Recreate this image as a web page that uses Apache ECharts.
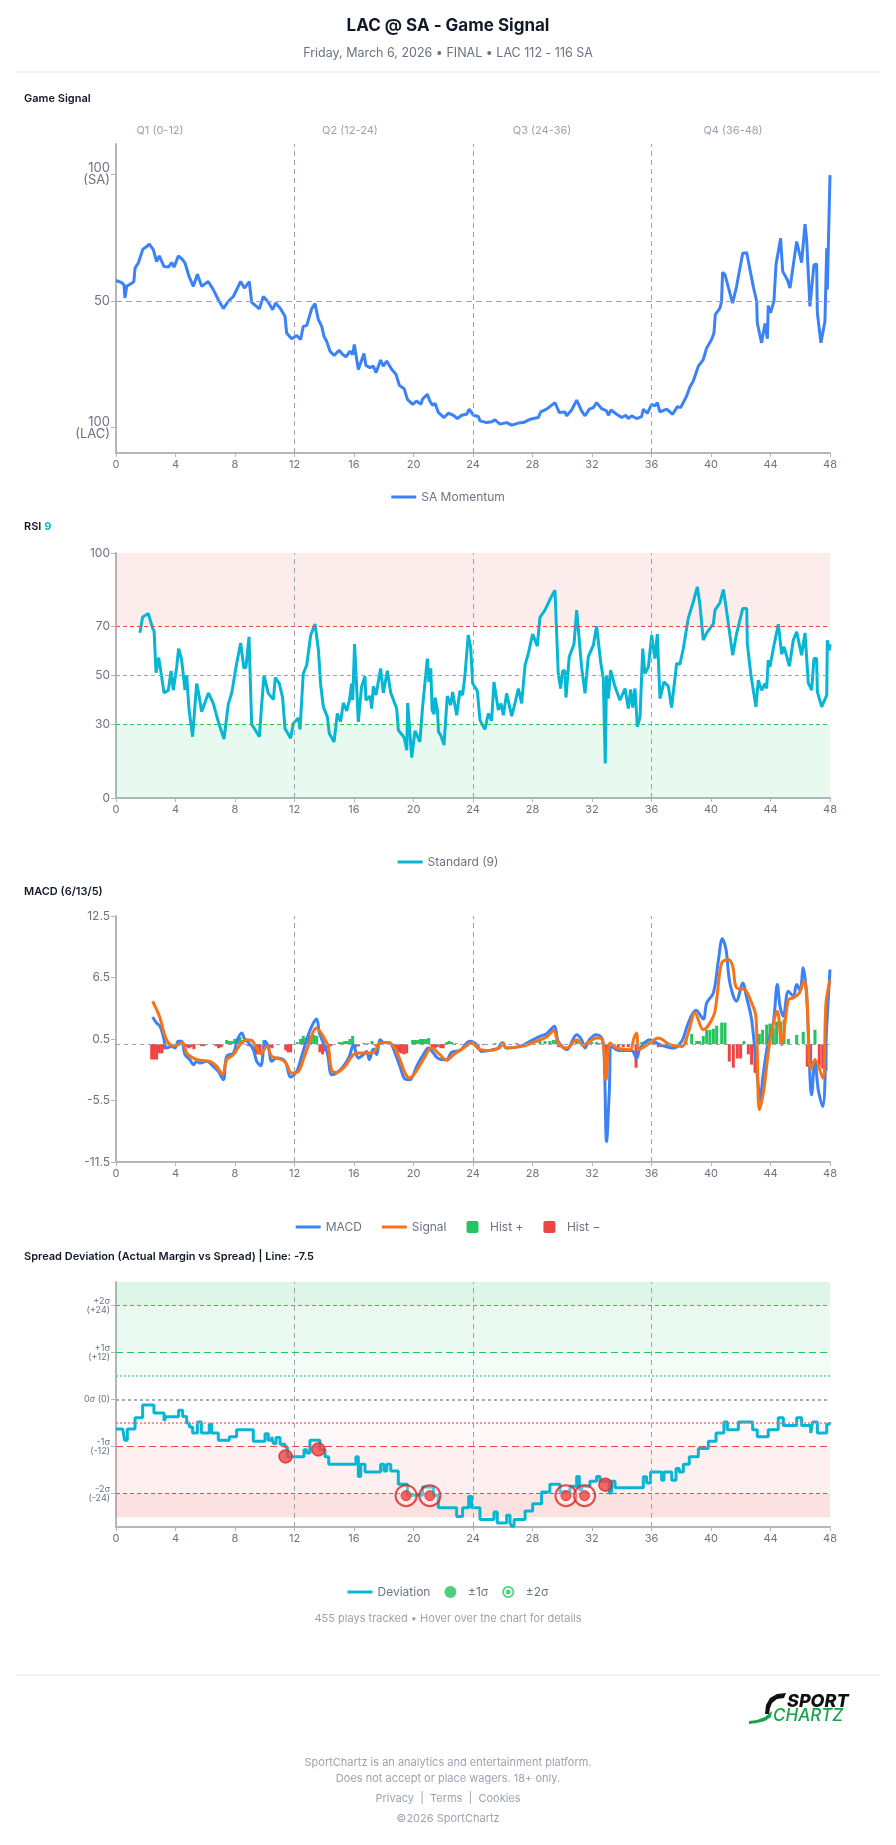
<!DOCTYPE html>
<html>
<head>
<meta charset="utf-8">
<title>LAC @ SA - Game Signal</title>
<script src="https://cdn.jsdelivr.net/npm/echarts@6/dist/echarts.min.js"></script>
<style>
  html, body { margin: 0; padding: 0; background: #fff; }
  #main { width: 896px; height: 1845px; }
</style>
</head>
<body>
<div id="main"></div>
<script>
// game minute -> value pairs
var quarterLabels = ['Q1 (0-12)', 'Q2 (12-24)', 'Q3 (24-36)', 'Q4 (36-48)'];
var quarterLines = [12, 24, 36];

var momentumData = [
  [0,58.1],[0.38,57.3],[0.54,56.3],[0.6,51.2],[0.72,55.8],[1.05,57],[1.2,57.7],[1.28,63],[1.5,65],[1.6,65.6],
  [1.8,70.4],[2.06,71.5],[2.24,72.5],[2.5,70.4],[2.73,65.6],[2.91,67.8],[3.23,63.6],[3.52,63.4],[3.74,65.2],[3.9,63.4],
  [4.19,67.8],[4.48,66.3],[4.64,65],[4.75,65.2],[4.91,59.7],[5.2,55.8],[5.47,60.6],[5.76,55.8],[6.2,57.7],[6.54,54.5],
  [6.88,50.5],[7.22,47],[7.55,49.9],[7.89,51.8],[8.38,57.7],[8.63,55.1],[8.96,57.7],[9.12,49.5],[9.64,46.9],[9.9,51.8],
  [10.24,49.5],[10.53,46.6],[10.73,49.2],[11.03,47.2],[11.36,44],[11.47,37.4],[11.81,35.1],[12.15,36.4],[12.41,34.8],[12.59,40],
  [12.82,40.3],[13.15,46.9],[13.38,49],[13.6,42.7],[13.83,40],[13.98,36.1],[14.16,34.1],[14.39,30.2],[14.66,28.5],[15.0,30.6],
  [15.24,28.9],[15.46,28],[15.73,30.2],[15.91,28.9],[16.02,32.8],[16.29,23],[16.67,29.3],[16.8,24.6],[17.08,23.7],[17.3,24.3],
  [17.48,21.7],[17.79,26.7],[17.97,24.3],[18.2,26.3],[18.54,23],[18.83,21],[19.05,16.7],[19.37,15.4],[19.59,11.2],[19.95,9.2],
  [20.2,10.5],[20.5,9.2],[20.6,11.2],[20.93,13.2],[21.1,10.5],[21.29,8.8],[21.45,9.6],[21.67,6],[21.78,6],[22.05,4],
  [22.34,5.7],[22.68,4.9],[22.95,3.6],[23.24,4.9],[23.57,5.3],[23.75,7.3],[24.02,4.9],[24.36,4.4],[24.47,2.7],[24.92,2],
  [25.25,2.3],[25.48,3.1],[25.81,1.4],[26.26,2],[26.6,1],[27.05,1.8],[27.38,2],[27.83,3.3],[28.39,4],[28.55,6.2],
  [28.95,7.3],[29.51,9.9],[29.8,6],[30.18,6.2],[30.3,4.7],[30.63,7],[30.97,10.9],[31.3,6.6],[31.53,4.7],[31.82,7.3],
  [32.09,7.9],[32.31,9.9],[32.65,7.5],[32.98,6.6],[33.1,4.9],[33.28,7],[33.66,5.3],[34.0,4],[34.28,4.9],[34.44,3.6],
  [34.66,4.7],[35.0,3.6],[35.34,4.4],[35.45,7.3],[35.72,5.7],[36.01,9.2],[36.23,8.6],[36.39,9.9],[36.57,6.2],[37.02,7.3],
  [37.42,5.3],[37.74,8.3],[37.96,7.9],[38.36,12.5],[38.59,16.2],[38.81,18.4],[39.15,24.3],[39.48,26.9],[39.71,31.5],[40.04,34.8],
  [40.2,37.4],[40.29,44.6],[40.6,47.2],[40.71,49.9],[40.78,61.3],[40.94,60.4],[41.45,49.2],[41.72,55.8],[42.13,68.9],[42.4,69.1],
  [42.58,63.6],[42.84,55.8],[43.07,49.9],[43.11,41.4],[43.4,33.5],[43.63,41.1],[43.79,35.1],[43.85,48.2],[44.0,45.3],[44.23,49.9],
  [44.37,64.3],[44.68,74.8],[44.82,61.7],[45.13,58.4],[45.31,55.1],[45.76,73.5],[46.09,65.2],[46.32,80.4],[46.43,74.1],[46.65,47.9],
  [46.77,47.2],[46.92,64.3],[47.1,64.7],[47.15,45.3],[47.39,33.5],[47.66,42],[47.78,70.8],[47.82,54.5],[48,99.7]
];

var rsiData = [
  [1.61,67.4],[1.79,73.9],[2.17,75.3],[2.29,75.9],[2.47,69.2],[2.56,68.2],[2.69,51.1],[2.87,57.3],[3.0,52.2],[3.23,42.9],
  [3.52,44],[3.7,51.9],[3.85,44],[4.08,53.5],[4.21,61],[4.41,56.5],[4.64,44],[4.75,50.1],[4.91,36.1],[5.15,25],
  [5.42,46.7],[5.54,43.3],[5.76,35.2],[6.21,42.9],[6.54,38.6],[6.88,31.1],[7.26,24.1],[7.55,38.3],[7.78,42.9],[8.11,54.9],
  [8.38,63.3],[8.6,52.9],[8.74,53.5],[8.94,65.8],[9.12,30.1],[9.64,25],[9.79,37.9],[9.95,50.1],[10.24,42.7],[10.58,40.2],
  [10.71,49.2],[10.98,46.7],[11.2,41],[11.36,28.4],[11.74,24.4],[11.92,30.4],[12.26,32.7],[12.37,28],[12.59,50.8],[12.82,54.2],
  [13.09,66.5],[13.38,71],[13.61,60.3],[13.76,46.1],[13.94,37.2],[14.21,33.1],[14.34,26.3],[14.66,22.9],[14.88,34.5],[15.1,31.1],
  [15.28,38.8],[15.51,35.6],[15.69,39.9],[15.84,46.7],[15.91,39.9],[16.04,62.8],[16.29,31.1],[16.51,45.4],[16.74,49.7],[16.8,39.9],
  [17.08,41.6],[17.19,36.5],[17.3,45.6],[17.48,42],[17.79,52.9],[17.97,42.9],[18.24,51.9],[18.47,42.9],[18.87,36.5],[18.98,27.7],
  [19.37,24.7],[19.55,19.5],[19.61,38.8],[19.88,16.5],[20.1,27.4],[20.43,22.9],[20.61,37.2],[20.93,56.9],[21.04,47.4],[21.16,52.9],
  [21.25,35.9],[21.39,34.2],[21.45,41],[21.61,35.9],[21.68,27],[21.83,25.6],[22.05,21.6],[22.27,41.6],[22.5,37.9],[22.63,43.3],
  [22.9,33.8],[23.12,43.7],[23.3,42],[23.46,50.1],[23.68,66.5],[23.84,61.7],[23.98,46.7],[24.29,43.7],[24.47,31.8],[24.8,28],
  [25.03,34.5],[25.25,31.5],[25.41,47.4],[25.7,35.9],[25.88,38.6],[26.04,33.8],[26.26,42.7],[26.6,33.4],[26.82,38.6],[27.05,44.7],
  [27.27,38.6],[27.5,54.2],[27.72,59],[28.01,66.9],[28.32,62],[28.5,73.7],[28.84,76.7],[29.17,81],[29.51,84.8],[29.73,50.8],
  [29.89,44.7],[30.03,51.9],[30.18,51.9],[30.25,41],[30.47,57.6],[30.79,62.8],[30.97,76.7],[31.3,53.5],[31.53,42.7],[31.75,57.6],
  [32.09,62.4],[32.31,70.1],[32.58,55.6],[32.76,48.8],[32.89,14.1],[32.98,50.1],[33.1,40.6],[33.25,52.2],[33.55,45.4],[33.88,39.9],
  [34.22,44.7],[34.44,36.5],[34.6,44.3],[34.73,36.9],[34.89,44.7],[35.05,29],[35.23,33.1],[35.41,61],[35.56,50.8],[35.79,53.5],
  [36.01,66.5],[36.23,56.9],[36.39,66.9],[36.57,40.6],[36.84,47.4],[37.13,45.6],[37.35,36.9],[37.69,54.9],[37.91,54.6],[38.14,61],
  [38.47,73.3],[38.81,80.1],[39.08,86.2],[39.26,78.7],[39.48,64.4],[39.71,67.4],[40.16,71.2],[40.27,76.7],[40.6,79.7],[40.83,85.1],
  [41.01,78],[41.46,58.3],[41.72,67.1],[42.13,77.3],[42.4,77.3],[42.44,63.1],[42.67,50.8],[43.02,37.2],[43.18,48.1],[43.4,44],
  [43.63,46.7],[43.74,44.7],[43.85,56.3],[43.96,53.5],[44.19,61],[44.53,71],[44.75,58.7],[44.91,61.7],[45.27,53.8],[45.53,64.4],
  [45.76,67.8],[46.09,58.3],[46.32,67.4],[46.54,47],[46.77,44],[46.92,56.9],[47.1,56.9],[47.15,43.3],[47.44,37.2],[47.78,42],
  [47.82,64.4],[47.96,60.3],[48,62.8]
];

var macdData = [
  [2.46,2.65],[2.73,2.06],[2.96,1.74],[3.18,0.76],[3.41,-0.38],[3.74,-0.22],[3.97,-0.38],[4.19,0.27],[4.41,0.27],[4.64,-1.03],
  [4.97,-1.52],[5.2,-2.01],[5.42,-1.68],[5.65,-1.85],[6.1,-1.68],[6.54,-2.17],[6.88,-2.66],[7.22,-3.47],[7.44,-1.19],[7.89,-0.87],
  [8.16,0.43],[8.45,1.09],[8.67,0.43],[8.9,0.17],[9.23,-0.54],[9.46,-1.68],[9.73,-2.11],[10.02,0.27],[10.24,-0.22],[10.47,-1.68],
  [10.8,-1.36],[11.36,-1.68],[11.74,-3.21],[12.15,-2.66],[12.48,-1.19],[12.93,0.92],[13.27,2.06],[13.49,2.45],[13.67,1.09],[13.94,0.11],
  [14.21,-0.87],[14.5,-2.99],[14.83,-2.82],[15.28,-2.17],[15.69,-1.19],[15.96,-0.05],[16.29,-1.36],[16.63,-1.03],[16.85,-0.71],[17.03,-1.52],
  [17.3,-0.48],[17.52,-1.03],[17.75,0.43],[17.97,0.17],[18.42,0.11],[18.76,-0.87],[19.09,-2.17],[19.43,-3.41],[19.76,-3.47],[20.21,-2.17],
  [20.66,-1.03],[21.0,-0.38],[21.34,-0.87],[21.61,-1.36],[22.01,-1.52],[22.23,-1.52],[22.56,-0.8],[23.12,-0.61],[23.8,0.27],[24.25,-0.05],
  [24.58,-0.71],[25.14,-0.61],[25.7,-0.38],[25.93,0.11],[26.26,-0.38],[27.16,-0.22],[27.83,0.27],[28.5,0.76],[28.95,1.02],[29.47,1.74],
  [29.73,0.27],[30.3,-0.54],[30.97,0.92],[31.3,0.43],[31.53,-0.38],[31.82,0.43],[32.27,0.92],[32.65,0.6],[32.81,-0.87],[32.98,-9.5],
  [33.16,-4.78],[33.32,-0.22],[33.77,-0.61],[34.66,-0.61],[35.0,-1.36],[35.23,-0.38],[35.9,0.43],[36.57,-0.05],[37.47,-0.38],[38.03,0.27],
  [38.47,2.06],[38.99,3.3],[39.48,2.45],[39.71,4.02],[40.16,5.0],[40.49,8.09],[40.76,10.27],[41.01,9.23],[41.27,5.97],[41.72,4.18],
  [42.13,5.97],[42.4,4.51],[42.73,2.39],[43.18,-4.13],[43.29,-5.43],[43.52,-2.82],[43.85,0.27],[44.19,2.06],[44.46,5.81],[44.64,3.69],
  [44.86,2.71],[45.2,5.16],[45.53,4.67],[45.76,5.81],[45.98,5.26],[46.2,7.44],[46.43,4.67],[46.77,-4.94],[46.99,-1.52],[47.21,-4.45],
  [47.51,-6.08],[47.78,1.74],[48,7.28]
];

var signalData = [
  [2.46,4.18],[2.73,3.37],[2.96,2.55],[3.23,1.09],[3.52,0.11],[3.85,-0.15],[4.19,-0.05],[4.48,0.17],[4.75,-0.87],[5.2,-1.36],
  [5.65,-1.58],[6.32,-1.68],[6.77,-2.17],[7.17,-2.99],[7.44,-1.52],[7.89,-1.03],[8.34,-0.05],[8.78,0.43],[9.12,0.37],[9.46,-0.38],
  [9.73,-0.93],[10.13,-0.22],[10.47,-1.19],[11.03,-1.45],[11.43,-1.85],[11.81,-2.82],[12.26,-2.66],[12.59,-1.52],[13.04,0.27],[13.45,1.57],
  [13.76,1.15],[14.05,0.43],[14.27,-0.22],[14.5,-2.56],[14.83,-2.76],[15.39,-2.17],[15.96,-1.03],[16.4,-0.87],[16.85,-0.87],[17.3,-0.8],
  [17.75,0.11],[18.2,0.17],[18.64,-0.15],[19.09,-1.52],[19.43,-2.82],[19.72,-3.31],[20.1,-2.82],[20.66,-1.52],[21.22,-0.38],[21.78,-1.03],
  [22.23,-1.58],[22.68,-1.03],[23.35,-0.38],[23.91,0.11],[24.47,-0.54],[25.14,-0.61],[25.77,-0.38],[26.0,0.17],[26.26,-0.38],[27.27,-0.22],
  [28.05,0.17],[28.95,0.7],[29.44,1.35],[29.73,0.11],[30.3,-0.38],[30.97,0.43],[31.42,-0.15],[31.86,0.27],[32.31,0.6],[32.71,0.43],
  [32.94,-3.47],[33.21,0.11],[33.66,-0.38],[34.55,-0.54],[34.82,0.6],[35.0,1.09],[35.18,-0.48],[35.9,0.11],[36.46,0.6],[37.24,-0.05],
  [38.03,-0.22],[38.47,1.09],[38.92,3.04],[39.48,1.41],[40.16,2.71],[40.38,4.34],[40.72,7.93],[41.16,8.25],[41.46,7.6],[41.72,5.48],
  [42.28,5.32],[42.73,4.02],[43.02,2.71],[43.25,-6.41],[43.52,-4.78],[43.96,0.27],[44.46,3.2],[44.75,-0.05],[45.2,4.34],[45.53,4.51],
  [45.94,5.0],[46.25,6.14],[46.43,5.0],[46.7,-2.5],[46.99,-1.52],[47.51,-3.31],[47.73,4.02],[48,6.23]
];

var histData = [
  [2.40,-1.5],[2.55,-1.5],[2.73,-1.5],[2.91,-0.9],[3.09,-0.9],[3.27,-0.5],[4.71,-0.3],[4.89,-0.4],[5.06,-0.3],[5.24,-0.5],
  [5.74,-0.2],[5.92,-0.2],[6.72,-0.2],[6.9,-0.4],[7.08,-0.3],[7.44,0.4],[7.62,0.3],[7.8,0.3],[7.98,0.5],[8.16,0.6],
  [8.34,0.7],[8.52,0.4],[8.9,-0.2],[9.34,-0.9],[9.5,-1.0],[9.68,-1.0],[9.95,0.4],[10.13,-0.3],[10.31,-0.3],[10.49,-0.4],
  [11.41,-0.6],[11.56,-0.8],[11.74,-0.8],[12.19,0.2],[12.41,0.5],[12.59,0.8],[12.77,0.6],[12.95,0.8],[13.13,0.9],[13.31,0.9],
  [13.49,0.8],[13.71,-0.8],[13.89,-1.0],[14.07,-0.7],[14.25,-0.3],[14.43,-0.2],[14.61,-0.1],[15.01,0.2],[15.19,0.2],[15.37,0.3],
  [15.55,0.3],[15.73,0.5],[15.91,0.8],[16.13,-0.3],[16.31,-0.2],[16.67,0.1],[16.94,0.1],[17.21,0.3],[17.48,-0.2],[18.64,-0.4],
  [18.82,-0.6],[19.0,-0.8],[19.18,-0.9],[19.36,-1.0],[19.54,-0.9],[19.94,0.4],[20.12,0.4],[20.3,0.4],[20.48,0.5],[20.66,0.5],
  [20.84,0.5],[21.02,0.6],[21.24,-0.3],[21.42,-0.4],[21.6,-0.3],[21.83,-0.4],[22.0,-0.4],[22.23,0.2],[22.4,0.3],[22.56,0.2],
  [22.86,0.1],[24.02,-0.1],[24.36,-0.1],[24.69,-0.1],[25.48,0.1],[25.93,0.1],[26.93,0.1],[27.6,0.2],[28.05,0.2],[28.5,0.3],
  [28.84,0.3],[29.17,0.3],[29.4,0.4],[29.58,0.4],[29.76,-0.3],[29.92,-0.2],[30.63,0.2],[30.97,0.3],[31.64,0.2],[31.98,0.2],
  [32.31,0.2],[32.54,0.1],[32.92,-3.5],[33.1,-1.0],[33.43,-0.3],[33.77,-0.3],[34.1,-0.3],[34.44,-0.3],[34.96,-2.3],[35.34,0.2],
  [35.56,0.3],[35.79,0.2],[36.12,0.2],[36.46,-0.3],[36.68,-0.3],[37.02,-0.2],[37.91,0.2],[38.32,0.4],[38.7,1.0],[39.04,0.3],
  [39.22,0.3],[39.48,0.8],[39.71,1.4],[39.93,1.4],[40.16,1.5],[40.38,1.8],[40.72,2.1],[40.94,2.1],[41.23,-1.7],[41.5,-2.3],
  [41.77,-1.4],[41.99,-1.4],[42.22,0.3],[42.51,-1.0],[42.73,-2.0],[42.96,-2.8],[43.25,1.0],[43.47,1.4],[43.74,1.9],[43.96,2.0],
  [44.19,1.6],[44.41,2.2],[44.68,2.2],[44.91,2.4],[45.2,0.5],[45.76,0.9],[46.2,1.2],[46.47,-2.2],[46.7,-2.3],[46.99,1.4],
  [47.28,-2.2],[47.51,-2.4],[47.73,-2.6]
];

var deviationData = [
  [0,-7.5],[0.45,-7.5],[0.58,-10.4],[0.76,-7.5],[1.28,-4.6],[1.79,-1.4],[2.55,-3.4],[3.23,-5.4],[3.36,-4.4],[4.21,-2.7],
  [4.48,-4.3],[4.75,-6],[4.93,-7],[5.15,-8.5],[5.47,-5.7],[5.74,-8.5],[6.27,-6.3],[6.43,-8.5],[6.88,-10.4],[7.62,-9.5],
  [8.11,-7.7],[9.23,-10.6],[10.02,-8.7],[10.24,-10.4],[10.47,-9.5],[10.58,-11.2],[10.76,-9.7],[11.03,-11.4],[11.36,-12.1],[11.52,-14.6],
  [12.64,-12.8],[12.82,-13.6],[13.04,-10.4],[13.71,-12.8],[14.05,-14.6],[14.3,-16.5],[16.13,-14.6],[16.29,-19.6],[16.45,-16.5],[16.74,-18.5],
  [17.79,-16.5],[18.02,-18.2],[18.2,-16.5],[18.47,-18.2],[18.98,-21.6],[19.59,-24.4],[20.61,-22.3],[21.34,-24.4],[21.67,-27.6],[22.9,-29.8],
  [23.3,-27.6],[23.71,-24.7],[23.91,-27.6],[24.47,-30.6],[25.41,-28.7],[25.63,-31.5],[26.26,-29.5],[26.49,-31.5],[26.6,-32.3],[26.76,-30.6],
  [27.5,-28.4],[28.01,-26.6],[28.61,-23.6],[29.17,-21.6],[29.85,-23.6],[30.52,-22.1],[30.97,-19.6],[31.15,-23],[31.3,-22.1],[31.86,-20.8],
  [32.31,-19.6],[32.54,-20.8],[33.16,-23.8],[33.32,-20.8],[33.55,-22.5],[35.45,-19.7],[35.67,-21.3],[35.94,-18.5],[36.68,-20.6],[36.84,-18.5],
  [37.36,-20.6],[37.65,-17.6],[37.87,-18.5],[38.14,-16.5],[38.54,-14.6],[39.15,-12.5],[39.82,-10.6],[40.34,-8.5],[40.87,-5.7],[41.1,-7.7],
  [41.84,-5.7],[42.8,-7.7],[43.11,-9.5],[43.85,-7.7],[44.52,-4.6],[44.86,-6.6],[45.76,-4.6],[46.09,-6.6],[46.7,-8.5],[46.83,-5.7],
  [47.15,-8.5],[47.78,-6.3],[47.96,-5.7],[48,-5.7]
];

var oneSigmaMarks = [[11.4,-14.5],[13.6,-12.7],[32.9,-21.7]];
var twoSigmaMarks = [[19.5,-24.5],[21.1,-24.5],[30.25,-24.5],[31.5,-24.5]];

var momentumTicks = [0, 50, 100];
var rsiTicks = [0, 30, 50, 70, 100];
var macdTicks = [-11.5, -5.5, 0.5, 6.5, 12.5];
var spreadTicks = [-24, -12, 0, 12, 24];
var spreadTickLabels = {'24': '+2σ\n(+24)', '12': '+1σ\n(+12)', '0': '0σ (0)', '-12': '-1σ\n(-12)', '-24': '-2σ\n(-24)'};

var FONT = 'Inter, "Noto Sans", sans-serif';
var AXIS_GREY = '#b3b6bc';
var LABEL_GREY = '#6b7280';
var DASH_GREY = '#9ca3af';

var histPos = histData.filter(function (d) { return d[1] >= 0; });
var histNeg = histData.filter(function (d) { return d[1] < 0; });

function xAxisFor(idx) {
    return {
        type: 'value', gridIndex: idx, min: 0, max: 48, interval: 4,
        splitLine: { show: false },
        axisLine: { show: true, onZero: false, lineStyle: { color: AXIS_GREY, width: 2 } },
        axisTick: { show: true, length: 4, lineStyle: { color: AXIS_GREY } },
        axisLabel: { color: LABEL_GREY, fontSize: 11, fontFamily: FONT, margin: 6 }
    };
}

function yAxisFor(idx, min, max, ticks, fmt, size, lh) {
    return {
        type: 'value', gridIndex: idx, min: min, max: max,
        splitLine: { show: false },
        axisLine: { show: true, onZero: false, lineStyle: { color: AXIS_GREY, width: 2 } },
        axisTick: { show: true, length: 5, customValues: ticks, lineStyle: { color: AXIS_GREY } },
        axisLabel: {
            customValues: ticks, formatter: fmt, color: LABEL_GREY,
            fontSize: size, lineHeight: lh, fontFamily: FONT, margin: 6
        }
    };
}

function quarterMarks() {
    return quarterLines.map(function (q) { return { xAxis: q }; });
}

function hLine(y, color, type, width) {
    return { yAxis: y, lineStyle: { color: color, type: type, width: width || 1 } };
}

var lineIcon = 'path://M0,0H25V3H0Z';
var ringPath = 'path://M12,0A12,12,0,1,1,12,24A12,12,0,1,1,12,0ZM12,3.5A8.5,8.5,0,1,0,12,20.5A8.5,8.5,0,1,0,12,3.5ZM12,7A5,5,0,1,1,12,17A5,5,0,1,1,12,7Z';
var squarePath = 'path://M2,0H10A2,2,0,0,1,12,2V10A2,2,0,0,1,10,12H2A2,2,0,0,1,0,10V2A2,2,0,0,1,2,0Z';

function sectionText(x, y, text) {
    return { type: 'text', silent: true, style: { x: x, y: y, text: text, fill: '#111827', font: '600 11px ' + FONT, verticalAlign: 'middle', align: 'left' } };
}

function centerText(y, text, font, color) {
    return { type: 'text', silent: true, style: { x: 448, y: y, text: text, font: font, fill: color, align: 'center', verticalAlign: 'middle' } };
}

var graphics = [
    centerText(26, 'LAC @ SA - Game Signal', '700 17px ' + FONT, '#111827'),
    centerText(53, 'Friday, March 6, 2026 • FINAL • LAC 112 - 116 SA', '400 12.5px ' + FONT, '#6b7280'),
    { type: 'line', silent: true, shape: { x1: 16, y1: 72, x2: 880, y2: 72 }, style: { stroke: '#dddfe3', lineWidth: 1 } },
    sectionText(24, 99, 'Game Signal'),
    {
        type: 'text', silent: true,
        style: {
            x: 24, y: 527, text: '{a|RSI }{b|9}', verticalAlign: 'middle',
            rich: {
                a: { fill: '#111827', font: '600 11px ' + FONT },
                b: { fill: '#06b6d4', font: '700 11px ' + FONT }
            }
        }
    },
    sectionText(24, 892, 'MACD (6/13/5)'),
    sectionText(24, 1257, 'Spread Deviation (Actual Margin vs Spread) | Line: -7.5'),
    centerText(1619, '455 plays tracked • Hover over the chart for details', '400 11px ' + FONT, '#9ca3af'),
    { type: 'line', silent: true, shape: { x1: 16, y1: 1675, x2: 880, y2: 1675 }, style: { stroke: '#e3e5e8', lineWidth: 1 } },
    centerText(1763, 'SportChartz is an analytics and entertainment platform.', '400 11px ' + FONT, '#9ca3af'),
    centerText(1779, 'Does not accept or place wagers. 18+ only.', '400 11px ' + FONT, '#9ca3af'),
    centerText(1799, 'Privacy  |  Terms  |  Cookies', '400 11px ' + FONT, '#9ca3af'),
    centerText(1819, '©2026 SportChartz', '400 11px ' + FONT, '#9ca3af'),
    // logo
    {
        type: 'polygon', silent: true,
        shape: { points: [[765,1714],[766,1705],[770,1698],[777,1694],[786,1693],[784,1698],[777,1699],[772,1703],[770,1708],[769,1714]] },
        style: { fill: '#111' }
    },
    {
        type: 'polygon', silent: true,
        shape: { points: [[749,1721],[757,1720],[765,1717],[772,1711],[771,1717],[765,1721],[757,1723],[749,1724]] },
        style: { fill: '#16a34a' }
    },
    { type: 'text', silent: true, style: { x: 787, y: 1702, text: 'SPORT', font: 'italic 800 18px ' + FONT, fill: '#111', verticalAlign: 'middle' } },
    { type: 'text', silent: true, style: { x: 773, y: 1716, text: 'CHARTZ', font: 'italic 500 17px ' + FONT, fill: '#16a34a', verticalAlign: 'middle' } }
];

var qx = [160, 350, 542, 733];
quarterLabels.forEach(function (q, i) {
    graphics.push({ type: 'text', silent: true, style: { x: qx[i], y: 131, text: q, font: '400 11px ' + FONT, fill: '#9ca3af', align: 'center', verticalAlign: 'middle' } });
});

var chart = echarts.init(document.getElementById('main'), null, { renderer: 'canvas' });

var legendText = { color: LABEL_GREY, fontSize: 12, fontFamily: FONT };

var option = {
    animation: false,
    backgroundColor: '#fff',
    textStyle: { fontFamily: FONT },
    graphic: graphics,
    grid: [
        { left: 116, top: 144, width: 714, height: 309 },
        { left: 116, top: 553, width: 714, height: 245 },
        { left: 116, top: 916, width: 714, height: 246 },
        { left: 116, top: 1282, width: 714, height: 245 }
    ],
    xAxis: [xAxisFor(0), xAxisFor(1), xAxisFor(2), xAxisFor(3)],
    yAxis: [
        yAxisFor(0, -10, 112, momentumTicks, function (v) {
            if (v === 100) return '100\n(SA)';
            if (v === 0) return '100\n(LAC)';
            return String(v);
        }, 13, 12),
        yAxisFor(1, 0, 100, rsiTicks, function (v) { return String(v); }, 12, 12),
        yAxisFor(2, -11.5, 12.5, macdTicks, function (v) { return v.toFixed(1); }, 12, 12),
        yAxisFor(3, -32.5, 30, spreadTicks, function (v) { return spreadTickLabels[String(v)] || ''; }, 9, 9)
    ],
    legend: [
        {
            top: 486, left: 'center', itemWidth: 25, itemHeight: 12, itemGap: 20, textStyle: legendText,
            data: [{ name: 'SA Momentum', icon: lineIcon }]
        },
        {
            top: 851, left: 'center', itemWidth: 25, itemHeight: 12, itemGap: 20, textStyle: legendText,
            data: [{ name: 'Standard (9)', icon: lineIcon }]
        },
        {
            top: 1216, left: 'center', itemWidth: 25, itemHeight: 12, itemGap: 20, textStyle: legendText,
            data: [
                { name: 'MACD', icon: lineIcon },
                { name: 'Signal', icon: lineIcon },
                { name: 'Hist +', icon: squarePath },
                { name: 'Hist −', icon: squarePath }
            ]
        },
        {
            top: 1581, left: 'center', itemWidth: 25, itemHeight: 12, itemGap: 14, textStyle: legendText,
            data: [
                { name: 'Deviation', icon: lineIcon },
                { name: '±1σ', icon: 'circle' },
                { name: '±2σ', icon: ringPath }
            ]
        }
    ],
    series: [
        {
            name: 'SA Momentum', type: 'line', xAxisIndex: 0, yAxisIndex: 0,
            data: momentumData, symbol: 'none', showSymbol: false,
            lineStyle: { color: '#3b82f6', width: 3 }, itemStyle: { color: '#3b82f6' },
            z: 3,
            markLine: {
                silent: true, symbol: ['none', 'none'], label: { show: false },
                lineStyle: { color: DASH_GREY, type: [5, 4], width: 1 },
                data: quarterMarks().concat([hLine(50, DASH_GREY, [6, 4], 1)])
            }
        },
        {
            name: 'Standard (9)', type: 'line', xAxisIndex: 1, yAxisIndex: 1,
            data: rsiData, symbol: 'none', showSymbol: false,
            lineStyle: { color: '#06b6d4', width: 3 }, itemStyle: { color: '#06b6d4' },
            z: 3,
            markArea: {
                silent: true,
                data: [
                    [{ yAxis: 70, itemStyle: { color: 'rgba(239,68,68,0.1)' } }, { yAxis: 100 }],
                    [{ yAxis: 0, itemStyle: { color: 'rgba(34,197,94,0.1)' } }, { yAxis: 30 }]
                ]
            },
            markLine: {
                silent: true, symbol: ['none', 'none'], label: { show: false },
                lineStyle: { color: DASH_GREY, type: [5, 4], width: 1 },
                data: quarterMarks().concat([
                    hLine(70, '#ef4444', [4, 3], 1.2),
                    hLine(50, DASH_GREY, [4, 3], 1.2),
                    hLine(30, '#22c55e', [4, 3], 1.2)
                ])
            }
        },
        {
            name: 'Hist +', type: 'bar', xAxisIndex: 2, yAxisIndex: 2,
            data: histPos, barWidth: 3, barGap: '-100%',
            itemStyle: { color: '#22c55e' }, z: 2
        },
        {
            name: 'Hist −', type: 'bar', xAxisIndex: 2, yAxisIndex: 2,
            data: histNeg, barWidth: 3, barGap: '-100%',
            itemStyle: { color: '#ef4444' }, z: 2
        },
        {
            name: 'MACD', type: 'line', xAxisIndex: 2, yAxisIndex: 2,
            data: macdData, symbol: 'none', showSymbol: false, smooth: 0.35,
            lineStyle: { color: '#3b82f6', width: 3 }, itemStyle: { color: '#3b82f6' },
            z: 3,
            markLine: {
                silent: true, symbol: ['none', 'none'], label: { show: false },
                lineStyle: { color: DASH_GREY, type: [5, 4], width: 1 },
                data: quarterMarks().concat([hLine(0, DASH_GREY, [4, 4], 1)])
            }
        },
        {
            name: 'Signal', type: 'line', xAxisIndex: 2, yAxisIndex: 2,
            data: signalData, symbol: 'none', showSymbol: false, smooth: 0.35,
            lineStyle: { color: '#f97316', width: 3 }, itemStyle: { color: '#f97316' },
            z: 4
        },
        {
            name: 'Deviation', type: 'line', xAxisIndex: 3, yAxisIndex: 3,
            data: deviationData, symbol: 'none', showSymbol: false, step: 'end',
            lineStyle: { color: '#06b6d4', width: 3 }, itemStyle: { color: '#06b6d4' },
            z: 3,
            markArea: {
                silent: true,
                data: [
                    [{ yAxis: 24, itemStyle: { color: 'rgba(34,197,94,0.15)' } }, { yAxis: 30 }],
                    [{ yAxis: 12, itemStyle: { color: 'rgba(34,197,94,0.09)' } }, { yAxis: 24 }],
                    [{ yAxis: 6, itemStyle: { color: 'rgba(34,197,94,0.05)' } }, { yAxis: 12 }],
                    [{ yAxis: -12, itemStyle: { color: 'rgba(239,68,68,0.04)' } }, { yAxis: -6 }],
                    [{ yAxis: -24, itemStyle: { color: 'rgba(239,68,68,0.08)' } }, { yAxis: -12 }],
                    [{ yAxis: -30, itemStyle: { color: 'rgba(239,68,68,0.16)' } }, { yAxis: -24 }]
                ]
            },
            markLine: {
                silent: true, symbol: ['none', 'none'], label: { show: false },
                lineStyle: { color: DASH_GREY, type: [5, 4], width: 1 },
                data: quarterMarks().concat([
                    hLine(24, '#22c55e', [4, 3], 1.2),
                    hLine(12, '#22c55e', [7, 4], 1.2),
                    hLine(6, '#4ade80', [2, 2], 1.5),
                    hLine(0, DASH_GREY, [3, 3], 1.8),
                    hLine(-6, '#f87171', [2, 2], 1.5),
                    hLine(-12, '#ef4444', [7, 4], 1.2),
                    hLine(-24, '#ef4444', [4, 3], 1.2)
                ])
            }
        },
        {
            name: 'sigma1', type: 'scatter', xAxisIndex: 3, yAxisIndex: 3,
            data: oneSigmaMarks, symbol: 'circle', symbolSize: 13,
            itemStyle: { color: '#ef4444', borderColor: '#dc2626', borderWidth: 1.5 }, z: 6
        },
        {
            name: 'sigma2ring', type: 'scatter', xAxisIndex: 3, yAxisIndex: 3,
            data: twoSigmaMarks, symbol: 'circle', symbolSize: 21,
            itemStyle: { color: 'rgba(255,255,255,0.35)', borderColor: '#dc2626', borderWidth: 2 }, z: 6
        },
        {
            name: 'sigma2dot', type: 'scatter', xAxisIndex: 3, yAxisIndex: 3,
            data: twoSigmaMarks, symbol: 'circle', symbolSize: 10,
            itemStyle: { color: '#ef4444', borderColor: '#dc2626', borderWidth: 1 }, z: 7
        },
        {
            name: '±1σ', type: 'scatter', xAxisIndex: 3, yAxisIndex: 3,
            data: [], itemStyle: { color: '#22c55e' }
        },
        {
            name: '±2σ', type: 'scatter', xAxisIndex: 3, yAxisIndex: 3,
            data: [], itemStyle: { color: '#22c55e' }
        }
    ]
};

chart.setOption(option);
</script>
</body>
</html>
